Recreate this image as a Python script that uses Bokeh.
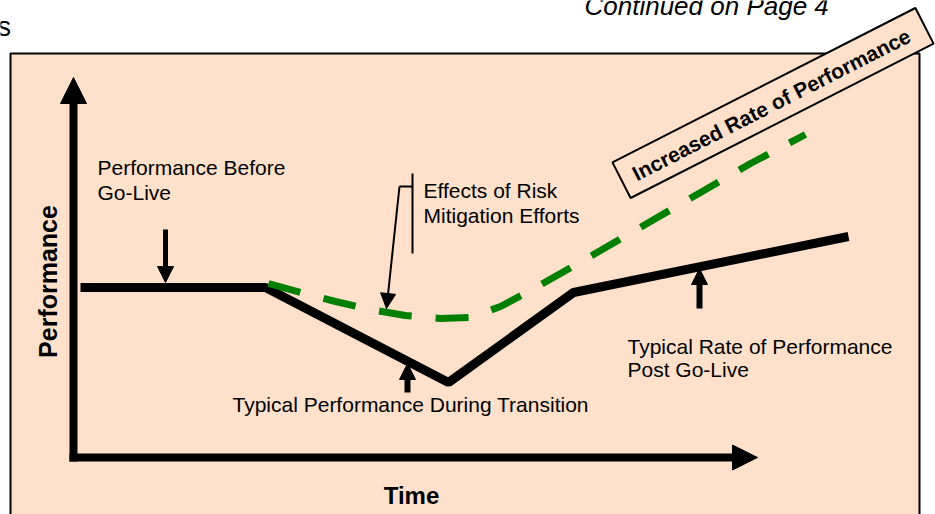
import numpy as np
from bokeh.plotting import figure
from bokeh.models import Range1d, Arrow, NormalHead
from bokeh.core.properties import value
from bokeh.embed import file_html
from bokeh.resources import INLINE

# ---- data (diagram units: x = time to the right, y = screen-down position) ----
typical_x = [80, 265, 448, 573, 848]
typical_y = [287, 287, 382, 292, 236]

mitigated_x = [268, 300, 335, 370, 405, 440, 470, 500, 530, 560, 600, 650, 700, 750, 805]
mitigated_y = [283, 292, 301, 309, 315, 318, 317, 306, 290, 273, 250, 221, 192, 163, 134]

label_text = ["Performance Before", "Go-Live",
              "Effects of Risk", "Mitigation Efforts",
              "Typical Performance During Transition",
              "Typical Rate of Performance", "Post Go-Live"]
label_x = [97, 97, 423, 423, 232, 627, 627]
label_y = [167, 192, 190, 215, 404, 346, 369]

FONT = value("Liberation Sans")
PEACH = "#FEE0CB"

p = figure(width=935, height=514, x_range=Range1d(0, 935), y_range=Range1d(514, 0),
           x_axis_type=None, y_axis_type=None, toolbar_location=None,
           output_backend="svg", min_border=0)
p.outline_line_color = None
p.background_fill_color = "white"
p.border_fill_color = "white"
p.xgrid.visible = False
p.ygrid.visible = False

# main panel
p.quad(left=[10], right=[919], top=[53], bottom=[540], fill_color=PEACH,
       line_color="black", line_width=2)


def arrow(x0, y0, x1, y1, shaft_w, head):
    d = np.hypot(x1 - x0, y1 - y0)
    ux, uy = (x1 - x0) / d, (y1 - y0) / d
    bx, by = x1 - ux * (head - 1), y1 - uy * (head - 1)
    p.segment(x0=[x0], y0=[y0], x1=[bx], y1=[by], line_width=shaft_w, color="black")
    p.add_layout(Arrow(end=NormalHead(size=head, fill_color="black", line_color="black",
                                      line_width=1),
                       x_start=bx, y_start=by, x_end=x1, y_end=y1, line_alpha=0))


# axes
arrow(73, 461, 73, 77, 8, 26)
arrow(69, 457, 757, 457, 8, 25)

# curves
p.line(typical_x, typical_y, line_width=9, color="black", line_join="bevel")
p.line(mitigated_x, mitigated_y, line_width=7, color="#008000", line_dash="33 24")

# pointer arrows
arrow(165, 229, 165, 282, 5, 16)
arrow(407, 392, 407, 363, 6, 16)
arrow(699, 308, 699, 268, 6, 16)
p.segment(x0=[399, 412], y0=[186, 173], x1=[412, 412], y1=[186, 253], line_width=2, color="black")
arrow(399, 186, 386, 308, 2, 15)

# labels
p.text(x=label_x, y=label_y, text=label_text, text_font=FONT, text_font_size="21px",
       text_baseline="alphabetic", text_align="left", text_color="black")
p.text(x=[411], y=[495], text=["Time"], text_font=FONT, text_font_size="24px",
       text_font_style="bold", text_align="center", text_baseline="alphabetic")
p.text(x=[47], y=[281], text=["Performance"], text_font=FONT, text_font_size="25px",
       text_font_style="bold", text_align="center", text_baseline="alphabetic",
       angle=np.pi / 2)
p.text(x=[584], y=[5], text=["Continued on Page 4"], text_font=FONT,
       text_font_size="26px", text_font_style="italic", text_baseline="alphabetic")
p.text(x=[-3], y=[26], text=["s"], text_font=FONT, text_font_size="27px",
       text_baseline="alphabetic")

# rotated call-out box
ang = np.radians(27)
p.rect(x=[772.5], y=[102.5], width=340, height=40, angle=ang,
       width_units="screen", height_units="screen", fill_color=PEACH,
       line_color="black", line_width=2)
p.text(x=[771], y=[104], text=["Increased Rate of Performance"], text_font=FONT,
       text_font_size="21px", text_font_style="bold", text_align="center",
       text_baseline="middle", angle=ang)

open("out.html", "w").write(file_html(p, INLINE))
